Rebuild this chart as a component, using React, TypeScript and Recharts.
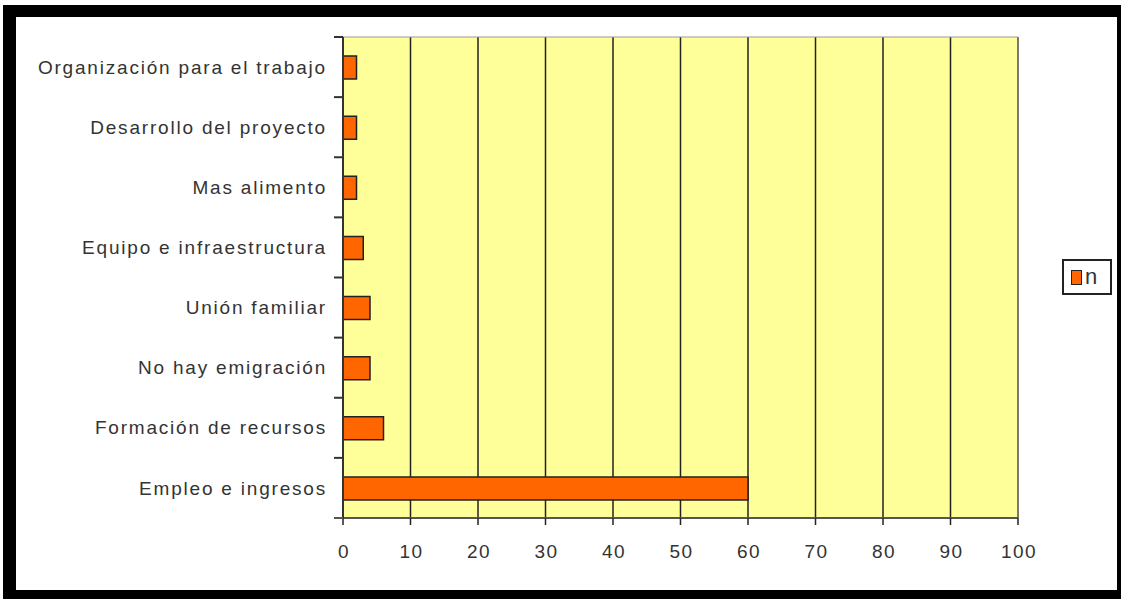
import React from 'react';
import {
  BarChart,
  Bar,
  XAxis,
  YAxis,
  CartesianGrid,
  Legend,
  ReferenceArea,
} from 'recharts';

const categories = [
  'Organización para el trabajo',
  'Desarrollo del proyecto',
  'Mas alimento',
  'Equipo e infraestructura',
  'Unión familiar',
  'No hay emigración',
  'Formación de recursos',
  'Empleo e ingresos',
];
const values = [2, 2, 2, 3, 4, 4, 6, 60];
const xTicks = [0, 10, 20, 30, 40, 50, 60, 70, 80, 90, 100];
const seriesName = 'n';

const data = categories.map((name, i) => ({ name, n: values[i] }));

const FONT = '"Liberation Sans", Arial, sans-serif';
const PLOT_TOP = 37;
const PLOT_BOTTOM = 518;
const BAND = (PLOT_BOTTOM - PLOT_TOP) / categories.length;

// category label plus the little boundary ticks on the left of the axis
function CategoryTick(props: any) {
  const { x, y, payload, index } = props;
  const top = y - BAND / 2;
  const bottom = y + BAND / 2;
  return (
    <g>
      <text
        x={x + 2}
        y={y}
        dy="0.35em"
        textAnchor="end"
        fontSize={19}
        letterSpacing={1.8}
        fontFamily={FONT}
        fill="#333"
      >
        {payload.value}
      </text>
      <line x1={x + 9} x2={x + 18} y1={top} y2={top} stroke="#333" strokeWidth={2} />
      {index === categories.length - 1 && (
        <line x1={x + 9} x2={x + 18} y1={bottom} y2={bottom} stroke="#555" strokeWidth={2} />
      )}
    </g>
  );
}

function XTick(props: any) {
  const { x, y, payload } = props;
  return (
    <text
      x={x + 1}
      y={y}
      dy="0.71em"
      textAnchor="middle"
      fontSize={19}
      letterSpacing={1.5}
      fontFamily={FONT}
      fill="#333"
    >
      {payload.value}
    </text>
  );
}

function LegendBox() {
  return (
    <div
      style={{
        width: 50,
        height: 36,
        border: '2px solid #222',
        background: '#fff',
        display: 'flex',
        alignItems: 'center',
        paddingLeft: 7,
        boxSizing: 'border-box',
        fontFamily: FONT,
        fontSize: 22,
        color: '#333',
      }}
    >
      <span
        style={{
          display: 'inline-block',
          width: 9,
          height: 13,
          background: '#FF6600',
          border: '1px solid #222',
          marginRight: 3,
        }}
      />
      <span style={{ lineHeight: '22px', marginTop: 0 }}>{seriesName}</span>
    </div>
  );
}

export default function App() {
  return (
    <div style={{ position: 'absolute', left: 0, top: 0, width: 1121, height: 599, background: '#fff' }}>
      <div
        style={{
          position: 'absolute',
          left: 3,
          top: 5,
          width: 1118,
          height: 594,
          boxSizing: 'border-box',
          borderStyle: 'solid',
          borderColor: '#000',
          borderWidth: '12px 4px 9px 13px',
        }}
      />
      <div style={{ position: 'absolute', left: 0, top: 0 }}>
        <BarChart
          width={1121}
          height={599}
          data={data}
          layout="vertical"
          margin={{ top: PLOT_TOP, right: 103, bottom: 0, left: 0 }}
          barSize={23}
        >
          <CartesianGrid
            horizontal={false}
            vertical
            stroke="#222"
            strokeWidth={1.5}
            fill="#FFFF99"
            fillOpacity={1}
          />
          <ReferenceArea x1={0} x2={100} fill="none" stroke="#999" strokeWidth={1} ifOverflow="extendDomain" />
          <XAxis
            type="number"
            domain={[0, 100]}
            ticks={xTicks}
            interval={0}
            height={81}
            axisLine={{ stroke: '#555', strokeWidth: 2 }}
            tickLine={{ stroke: '#222', strokeWidth: 1.5 }}
            tickSize={7}
            tickMargin={20}
            tick={<XTick />}
          />
          <YAxis
            type="category"
            dataKey="name"
            width={343}
            interval={0}
            axisLine={{ stroke: '#333', strokeWidth: 2 }}
            tickLine={false}
            tickSize={0}
            tickMargin={18}
            tick={<CategoryTick />}
          />
          <Legend
            layout="horizontal"
            align="center"
            verticalAlign="middle"
            wrapperStyle={{ position: 'absolute', left: 1062, top: 259, width: 50 }}
            content={() => <LegendBox />}
          />
          <Bar
            dataKey="n"
            name={seriesName}
            fill="#FF6600"
            stroke="#222"
            strokeWidth={1.5}
            isAnimationActive={false}
          />
        </BarChart>
      </div>
    </div>
  );
}
